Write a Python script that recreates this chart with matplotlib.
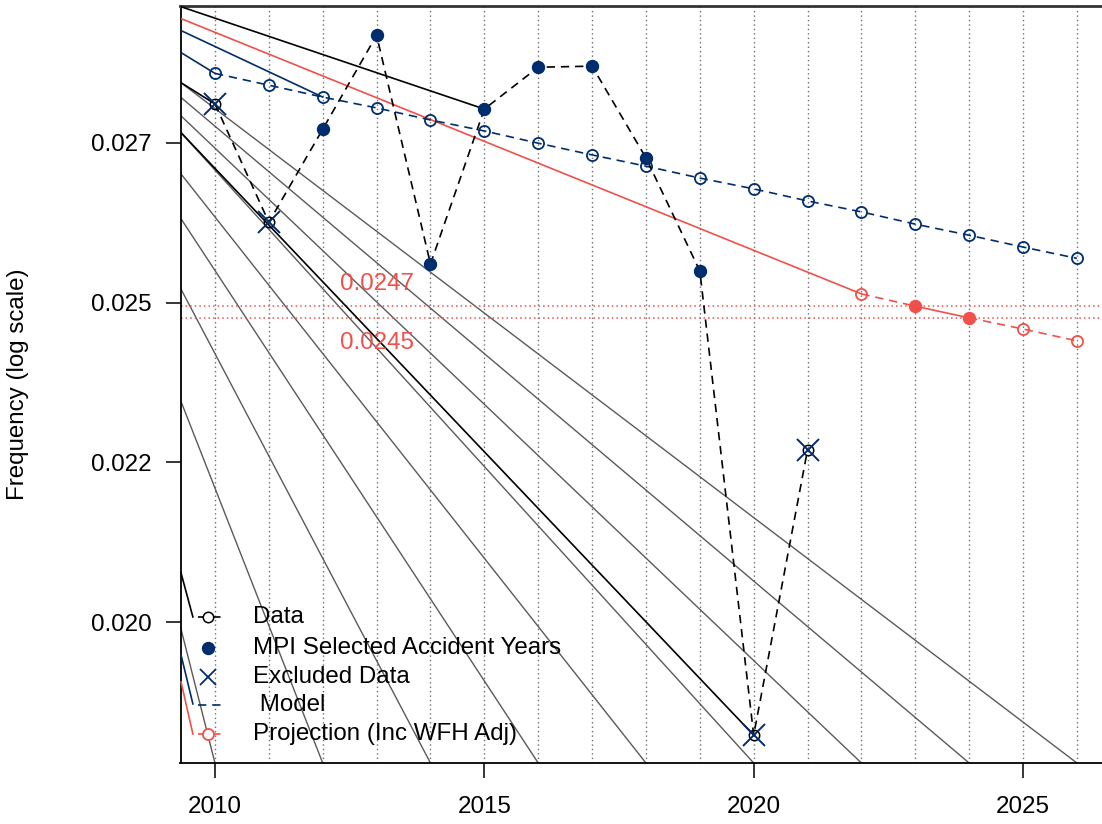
"""
Frequency trend chart (log scale) with model fit and WFH-adjusted projection.
"""
import matplotlib
matplotlib.use('Agg')
import matplotlib.pyplot as plt
import numpy as np

# === DATA ===
years = np.arange(2010, 2022)
freq = [0.02800, 0.02600, 0.02756, 0.02923, 0.02533, 0.02791,
        0.02865, 0.02867, 0.02707, 0.02522, 0.01886, 0.02255]
selected_years = [2012, 2013, 2014, 2015, 2016, 2017, 2018, 2019]
excluded_years = [2010, 2011, 2020, 2021]

model_years = np.arange(2010, 2027)
model_freq = [0.02854, 0.02833, 0.02812, 0.02793, 0.02772, 0.02753,
              0.02732, 0.02712, 0.02693, 0.02673, 0.02655, 0.02635,
              0.02617, 0.02597, 0.02579, 0.02560, 0.02542]

proj_years = [2022, 2023, 2024, 2025, 2026]
proj_freq = [0.02486, 0.02467, 0.02449, 0.02432, 0.02414]
proj_selected = [2023, 2024]

# straight trend lines entering from the left edge (value at left edge -> end point)
gray_left = [0.02838, 0.02812, 0.02780, 0.02751, 0.02681, 0.02607, 0.02495, 0.02326, 0.02018]
gray_end_year = [2026, 2024, 2022, 2020, 2018, 2016, 2014, 2012, 2010]

black_left = [0.02976, 0.02751, 0.02838]
black_end_year = [2015, 2020, 2010]
navy_left = [0.02932, 0.02892]
navy_end_year = [2012, 2010]
red_left = 0.02954
red_end_year = 2022

# short connectors toward the legend (x in years, y in frequency)
leg_conn = {
    'black': ([2009.37, 2009.59], [0.020875, 0.020308]),
    'navy': ([2009.37, 2009.59], [0.019831, 0.019232]),
    'red': ([2009.37, 2009.59], [0.019499, 0.018874]),
}

ytick_vals = np.exp([-3.9, -3.8, -3.7, -3.6])
ytick_labels = ['0.020', '0.022', '0.025', '0.027']
xtick_vals = [2010, 2015, 2020, 2025]

# === STYLE ===
NAVY = '#002D6E'
RED = '#F0504A'
GRAY = '#5A5A5A'
FS = 17.4

plt.rcParams.update({
    'font.family': ['Liberation Sans', 'DejaVu Sans'],
    'font.size': FS,
})

XLIM = (2009.36, 2026.64)
YLIM = (0.018534, 0.029770)

fig = plt.figure(figsize=(11.02, 8.24), dpi=100)
W, H = 1102, 824
ax = fig.add_axes([180.5 / W, (H - 763) / H, (1111.4 - 180.5) / W, (763 - 6) / H])
ax.set_yscale('log')
ax.set_xlim(*XLIM)
ax.set_ylim(*YLIM)

# vertical dotted grid at every year
for yr in model_years:
    ax.axvline(yr, color='#6E6E6E', linestyle=(0, (1, 2.2)), lw=1.0, zorder=1)

# gray trend lines
x0 = XLIM[0]
for v, ye in zip(gray_left, gray_end_year):
    ax.plot([x0, ye], [v, YLIM[0]], color=GRAY, lw=1.0, zorder=2)

data_map = dict(zip(years, freq))
model_map = dict(zip(model_years, model_freq))
proj_map = dict(zip(proj_years, proj_freq))

for v, ye in zip(black_left, black_end_year):
    ax.plot([x0, ye], [v, data_map[ye]], color='black', lw=1.2, zorder=3)
for v, ye in zip(navy_left, navy_end_year):
    ax.plot([x0, ye], [v, model_map[ye]], color=NAVY, lw=1.2, zorder=3)
ax.plot([x0, red_end_year], [red_left, proj_map[red_end_year]], color=RED, lw=1.2, zorder=3)

for key, col in [('black', 'black'), ('navy', NAVY), ('red', RED)]:
    xs, ys = leg_conn[key]
    ax.plot(xs, ys, color=col, lw=1.2, zorder=3, clip_on=False)

# reference lines for the selected projection years
for v, off in zip(proj_freq[1:3], [16, -18]):
    ax.axhline(v, color=RED, linestyle=(0, (1, 2)), lw=1.1, zorder=2)
    ax.annotate(f'{v:.4f}', xy=(2013, v), xytext=(0, off), textcoords='offset points',
                ha='center', va='center', color=RED, fontsize=FS)

DASH = (0, (5, 3.5))

# model
ax.plot(model_years, model_freq, color=NAVY, linestyle=DASH, lw=1.2, marker='o',
        markersize=8, markerfacecolor='none', markeredgecolor=NAVY, markeredgewidth=1.3, zorder=4)

# projection
ax.plot(proj_years[:2], proj_freq[:2], color=RED, linestyle=DASH, lw=1.2, zorder=4)
ax.plot(proj_years[1:3], proj_freq[1:3], color=RED, lw=1.2, zorder=4)
ax.plot(proj_years[2:], proj_freq[2:], color=RED, linestyle=DASH, lw=1.2, zorder=4)
open_p = [y for y in proj_years if y not in proj_selected]
ax.plot(open_p, [proj_map[y] for y in open_p], 'o', markersize=8, markerfacecolor='none',
        markeredgecolor=RED, markeredgewidth=1.3, zorder=5)
ax.plot(proj_selected, [proj_map[y] for y in proj_selected], 'o', markersize=8.6,
        color=RED, zorder=6)

# data
ax.plot(years, freq, color='black', linestyle=DASH, lw=1.2, marker='o', markersize=7.5,
        markerfacecolor='none', markeredgecolor='black', markeredgewidth=1.1, zorder=5)
ax.plot(selected_years, [data_map[y] for y in selected_years], 'o', markersize=8.6,
        color=NAVY, zorder=6)
ax.plot(excluded_years, [data_map[y] for y in excluded_years], 'x', markersize=16,
        markeredgewidth=1.4, color=NAVY, zorder=6)

# axes
ax.set_yticks(ytick_vals)
ax.set_yticklabels(ytick_labels)
ax.yaxis.set_minor_locator(matplotlib.ticker.NullLocator())
ax.set_xticks(xtick_vals)
ax.set_xticklabels([str(x) for x in xtick_vals])
ax.tick_params(axis='both', length=11, width=1.1, color='black', labelsize=FS)
ax.tick_params(axis='x', pad=13)
ax.tick_params(axis='y', pad=10)
ax.set_ylabel('Frequency (log scale)', fontsize=FS, va='center')
ax.yaxis.set_label_coords(-0.1745, 0.5)

for side in ['left', 'bottom']:
    ax.spines[side].set_color('black')
    ax.spines[side].set_linewidth(1.3)
ax.spines['top'].set_color('#333333')
ax.spines['top'].set_linewidth(2.0)

# legend drawn by hand (R-style, no frame)
legend_rows = [617, 648, 677, 705, 734]
legend_labels = ['Data', 'MPI Selected Accident Years', 'Excluded Data', ' Model',
                 'Projection (Inc WFH Adj)']
fx = lambda px: px / W
fy = lambda py: 1 - py / H
hx0, hx1, mx, tx = 198, 225, 208, 253
r = legend_rows
fig.add_artist(plt.Line2D([fx(hx0), fx(hx1)], [fy(r[0])] * 2, color='black', lw=1.2, linestyle=DASH))
fig.add_artist(plt.Line2D([fx(mx)], [fy(r[0])], marker='o', markersize=7.5, markerfacecolor='white',
                          markeredgecolor='black', markeredgewidth=1.1, linestyle='none'))
fig.add_artist(plt.Line2D([fx(mx)], [fy(r[1])], marker='o', markersize=8.6, color=NAVY, linestyle='none'))
fig.add_artist(plt.Line2D([fx(mx)], [fy(r[2])], marker='x', markersize=11, markeredgewidth=1.3,
                          color=NAVY, linestyle='none'))
fig.add_artist(plt.Line2D([fx(hx0), fx(hx1)], [fy(r[3])] * 2, color=NAVY, lw=1.2, linestyle=DASH))
fig.add_artist(plt.Line2D([fx(hx0), fx(hx1)], [fy(r[4])] * 2, color=RED, lw=1.2, linestyle=DASH))
fig.add_artist(plt.Line2D([fx(mx)], [fy(r[4])], marker='o', markersize=8, markerfacecolor='white',
                          markeredgecolor=RED, markeredgewidth=1.3, linestyle='none'))
for row, lab in zip(legend_rows, legend_labels):
    fig.text(fx(tx), fy(row), lab, ha='left', va='center', fontsize=FS)

fig.savefig('out.png', dpi=100, facecolor='white')
plt.close(fig)
